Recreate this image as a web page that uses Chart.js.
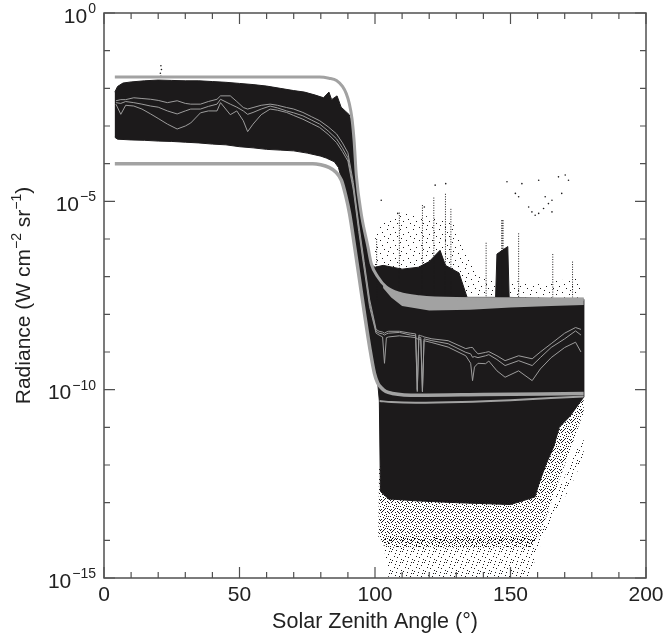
<!DOCTYPE html>
<html>
<head>
<meta charset="utf-8">
<script src="https://cdn.jsdelivr.net/npm/chart.js@4.4.1/dist/chart.umd.min.js"></script>
<style>
  body { margin: 0; background: #fff; }
</style>
</head>
<body>
<canvas id="radChart" width="664" height="639"></canvas>
<script>
// solar zenith angle in degrees, radiance given as log10 exponent (W cm-2 sr-1)

// three median curves (thin gray)
const medSza = [4.4, 6.2, 8, 11, 14, 17.2, 20, 23.4, 27, 30, 32, 35.6, 38.5, 41.7, 43, 46.6, 49, 51.4, 53, 55,
  58, 61.3, 64, 67.4, 70, 73.4, 76.5, 79.6, 82.7, 85.8, 88, 90, 92, 94, 96, 98, 100.4, 101.5, 102.8, 103.5,
  104.2, 105, 109, 113, 115, 115.6, 116.2, 116.9, 117.5, 118.1, 121, 127, 133.5, 135.3, 136, 136.7, 138, 140.8,
  142, 145, 148, 153, 158, 161, 165, 170, 174, 176];
const medA = [-2.33, -2.3, -2.3, -2.25, -2.27, -2.29, -2.32, -2.38, -2.33, -2.4, -2.42, -2.42, -2.35, -2.29, -2.2, -2.2,
  -2.35, -2.51, -2.55, -2.51, -2.45, -2.42, -2.45, -2.51, -2.55, -2.64, -2.75, -2.86, -3.02, -3.21, -3.45, -3.71,
  -4.5, -5.6, -6.6, -7.6, -8.4,
  -8.45, -8.47, -8.5, -8.47, -8.45, -8.45, -8.5, -8.52, -10.0, -8.55, -8.57, -8.58, -8.6, -8.65, -8.7, -8.91,
  -8.88, -8.88, -8.95, -9.05, -9.01, -8.99, -9.1, -9.23, -9.1, -9.18, -9.0, -8.78, -8.5, -8.35, -8.4];
const medB = [-2.38, -2.4, -2.35, -2.38, -2.42, -2.47, -2.5, -2.6, -2.68, -2.6, -2.55, -2.55, -2.48, -2.42, -2.29, -2.42,
  -2.5, -2.6, -2.69, -2.64, -2.55, -2.47, -2.52, -2.6, -2.65, -2.73, -2.84, -2.95, -3.13, -3.34, -3.58, -3.84,
  -4.6, -5.7, -6.7, -7.7, -8.45,
  -8.5, -8.52, -8.55, -8.52, -8.5, -8.48, -8.55, -8.57, -10.05, -8.6, -8.62, -10.05, -8.65, -8.7, -8.78, -9.01,
  -9.05, -9.14, -9.12, -9.15, -9.1, -9.07, -9.2, -9.36, -9.23, -9.36, -9.15, -8.88, -8.65, -8.44, -8.55];
const medC = [-2.42, -2.69, -2.45, -2.47, -2.55, -2.68, -2.8, -2.95, -3.08, -3.0, -2.92, -2.65, -2.6, -2.6, -2.38, -2.7,
  -2.6, -2.86, -3.15, -2.95, -2.7, -2.55, -2.58, -2.64, -2.72, -2.82, -2.93, -3.04, -3.22, -3.44, -3.68, -3.93,
  -4.7, -5.8, -6.8, -7.8, -8.5,
  -8.55, -8.6, -9.3, -8.62, -8.6, -8.57, -8.6, -8.62, -8.65, -8.66, -8.67, -10.05, -8.7, -8.75, -8.87, -9.1,
  -9.3, -9.76, -9.4, -9.3, -9.31, -9.24, -9.5, -9.67, -9.5, -9.76, -9.45, -9.15, -8.88, -8.74, -9.0];

// upper and lower envelopes (thick gray)
const upperSza = [4, 79.6, 83, 85.8, 88, 89.4, 90.5, 91.5, 92.3, 93.1, 94.9, 97.4, 98.6, 101, 104.1, 109, 116.3, 130, 177];
const upperExp = [-1.7, -1.7, -1.73, -1.79, -1.95, -2.14, -2.4, -2.8, -3.4, -4.3, -5.32, -6.21, -6.65, -7.0, -7.27, -7.44, -7.53, -7.58, -7.6];
const lowerSza = [4, 77, 80, 83, 85.5, 87.6, 89.2, 90.6, 92.5, 94.3, 96.1, 98, 99.8, 101, 102.3, 104, 106.4, 116, 140, 177];
const lowerExp = [-4.0, -4.0, -4.03, -4.1, -4.22, -4.44, -4.85, -5.32, -6.21, -7.09, -7.97, -8.86, -9.57, -9.82, -9.95, -10.05, -10.1, -10.15, -10.13, -10.1];
const lower2Sza = [101.7, 106, 115, 132, 150, 165, 177];
const lower2Exp = [-10.3, -10.33, -10.35, -10.33, -10.28, -10.22, -10.18];

// gray band of the upper envelope on the night side
const bandSza = [103, 106, 110, 120, 135, 150, 165, 177];
const bandTop = [-7.22, -7.38, -7.48, -7.55, -7.55, -7.55, -7.55, -7.55];
const bandBot = [-7.3, -7.55, -7.78, -7.9, -7.88, -7.82, -7.78, -7.75];

// outline of the dense black cloud of measurements
const blackSza = [4, 5, 7, 10, 15, 20, 25, 30, 35, 40, 45, 50, 55, 60, 65, 70, 74, 78, 81, 83, 84, 86, 87.5, 89, 90.5,
  91.5, 92.3, 93.1, 94.9, 97.4, 98.6, 100, 103, 110, 116, 120, 124, 126, 131, 134, 144.5, 145, 149, 149.5, 177,
  177, 175, 172, 168, 166, 163, 160.5, 159, 150, 130, 115, 105, 102, 101.6,
  101, 99.8, 98, 96.1, 94.3, 92.5, 90.6, 89.2, 88, 86.5, 85, 82, 80, 75, 70, 65, 60, 55, 50, 45, 40, 35, 30,
  25, 20, 15, 10, 5, 4];
const blackExp = [-2.1, -1.95, -1.86, -1.83, -1.8, -1.78, -1.79, -1.8, -1.8, -1.82, -1.84, -1.87, -1.9, -1.94, -2.0,
  -2.06, -2.1, -2.18, -2.25, -2.1, -2.3, -2.2, -2.5, -2.6, -2.7, -2.95, -3.45, -4.35, -5.35, -6.25, -6.68, -6.75,
  -6.7, -6.8, -6.75, -6.6, -6.3, -6.7, -6.9, -7.55, -7.55, -6.4, -6.2, -7.55, -7.6,
  -10.2, -10.4, -10.7, -11.0, -11.5, -12.0, -12.5, -12.85, -13.05, -13.0, -12.95, -12.9, -12.7, -10.3,
  -9.82, -9.57, -8.86, -7.97, -7.09, -6.21, -5.32, -4.85, -4.5, -4.1, -3.95, -3.85, -3.8, -3.72, -3.66, -3.64,
  -3.62, -3.58, -3.55, -3.5, -3.48, -3.45, -3.43, -3.41, -3.4, -3.38, -3.37, -3.35, -3.3];

// thinner stippled regions round the cloud
const midSza = [101.5, 101.2, 104, 158, 161, 165, 169, 173, 177, 177, 160, 101.5];
const midExp = [-12.0, -13.9, -14.2, -14.2, -13.8, -13.0, -12.2, -11.4, -10.6, -10.0, -10.0, -12.0];
const lowSza = [102.5, 105, 157, 160, 165, 172, 177, 177, 160, 103];
const lowExp = [-13.8, -15, -15, -14.3, -13.5, -12.6, -11.8, -11.2, -13.9, -13.9];
const nightSza = [100, 103, 110, 120, 130, 134, 140, 160, 176, 176, 100];
const nightExp = [-6.0, -5.5, -5.3, -5.4, -5.6, -6.5, -7.0, -7.2, -7.0, -7.6, -7.6];

// vertical streaks above the night band
const spikeSza = [100.6, 109, 117.5, 121.7, 126, 128, 141, 147, 153, 165.6, 172.9];
const spikeTop = [-6.0, -5.3, -5.1, -4.9, -4.8, -5.2, -6.1, -5.5, -5.85, -6.4, -6.6];
const spikeBase = -7.6;

// isolated points
const dotSza = [21, 21.2, 20.8, 21, 148.7, 151.8, 153, 156.7, 157.9, 159.1, 160.4, 162.2, 164, 165.3, 167.7, 170.2,
  171.4, 168.9, 165.3, 162.8, 154.2, 160.4, 122.2, 126.1, 102.3, 108.4, 118.2];
const dotExp = [-1.4, -1.5, -1.6, -1.68, -4.48, -4.79, -4.88, -5.15, -5.28, -5.37, -5.32, -5.19, -5.06, -4.97, -4.35,
  -4.3, -4.44, -4.79, -5.28, -4.88, -4.53, -4.44, -4.57, -4.53, -4.97, -5.32, -5.15];

const xLabels = [0, 50, 100, 150, 200];
const yLabelExps = [0, -5, -10, -15];

const pts = (xs, es) => xs.map((v, i) => ({ x: v, y: Math.pow(10, es[i]) }));

// irregular stipple tiles for the thin parts of the point cloud
function stipple(size, dots) {
  const c = document.createElement('canvas');
  c.width = c.height = size;
  const g = c.getContext('2d');
  g.fillStyle = '#1c1a1b';
  dots.forEach(([px, py]) => g.fillRect(px, py, 1, 1));
  return g.createPattern(c, 'repeat');
}
const midPattern = stipple(10, [[0, 0], [3, 0], [7, 1], [1, 2], [5, 2], [9, 3], [2, 4], [6, 4], [8, 6], [0, 6],
  [4, 5], [3, 7], [7, 8], [1, 9], [5, 8], [9, 9], [6, 6], [2, 1], [8, 2], [4, 9]]);
const lowPattern = stipple(11, [[0, 0], [6, 1], [3, 4], [9, 6], [1, 7], [5, 9], [10, 3], [7, 10], [4, 1]]);
const nightPattern = stipple(13, [[0, 0], [7, 2], [3, 6], [10, 8], [5, 11], [11, 4]]);

const INK = '#1c1a1b';
const GRAY = '#a2a2a2';

const shape = (data, bg, order) => ({
  data, order, fill: 'shape', backgroundColor: bg, borderWidth: 0, pointRadius: 0
});

const datasets = [
  shape(pts(lowSza, lowExp), lowPattern, 12),
  shape(pts(midSza, midExp), midPattern, 11),
  shape(pts(nightSza, nightExp), nightPattern, 11),
  { data: pts(blackSza, blackExp), order: 10, fill: 'shape', backgroundColor: INK,
    borderColor: INK, borderWidth: 1, pointRadius: 0 },
  ...spikeSza.map((s, i) => ({
    data: [{ x: s, y: Math.pow(10, spikeTop[i]) }, { x: s, y: Math.pow(10, spikeBase) }],
    order: 9, borderColor: INK, borderWidth: s === 147 ? 2.5 : 1, borderDash: [1, 1.5],
    pointRadius: 0, fill: false
  })),
  { data: pts(dotSza, dotExp), order: 9, showLine: false, pointRadius: 0.8,
    pointBackgroundColor: INK, pointBorderWidth: 0 },
  shape(pts(bandSza.concat(bandSza.slice().reverse()), bandTop.concat(bandBot.slice().reverse())), GRAY, 8),
  { data: pts(lower2Sza, lower2Exp), order: 6, borderColor: GRAY, borderWidth: 2, pointRadius: 0, fill: false,
    cubicInterpolationMode: 'monotone' },
  { data: pts(lowerSza, lowerExp), order: 6, borderColor: GRAY, borderWidth: 3.5, pointRadius: 0, fill: false,
    cubicInterpolationMode: 'monotone' },
  { data: pts(upperSza, upperExp), order: 6, borderColor: GRAY, borderWidth: 3, pointRadius: 0, fill: false,
    cubicInterpolationMode: 'monotone' },
  ...[medA, medB, medC].map(m => ({
    data: pts(medSza, m), order: 1, borderColor: '#9c9c9c', borderWidth: 1, pointRadius: 0, fill: false
  }))
];

// frame, inward ticks and the labels with superscripts
const frameAndLabels = {
  id: 'frameAndLabels',
  afterDraw(chart) {
    const { ctx, chartArea: a, scales: { x, y } } = chart;
    ctx.save();
    ctx.strokeStyle = '#505050';
    ctx.lineWidth = 1.5;
    ctx.strokeRect(a.left, a.top, a.right - a.left, a.bottom - a.top);

    ctx.lineWidth = 1.2;
    ctx.beginPath();
    for (let v = xLabels[0]; v <= xLabels[xLabels.length - 1]; v += 10) {
      const px = x.getPixelForValue(v);
      const len = xLabels.includes(v) ? 11 : 6;
      ctx.moveTo(px, a.bottom); ctx.lineTo(px, a.bottom - len);
      ctx.moveTo(px, a.top); ctx.lineTo(px, a.top + len);
    }
    for (let e = 0; e >= -15; e--) {
      const py = y.getPixelForValue(Math.pow(10, e));
      const len = yLabelExps.includes(e) ? 11 : 6;
      ctx.moveTo(a.left, py); ctx.lineTo(a.left + len, py);
      ctx.moveTo(a.right, py); ctx.lineTo(a.right - len, py);
    }
    ctx.stroke();

    ctx.fillStyle = '#222';
    const base = '21px "Liberation Sans", Arial, sans-serif';
    const sup = '14px "Liberation Sans", Arial, sans-serif';

    ctx.font = base;
    ctx.textAlign = 'center';
    ctx.textBaseline = 'middle';
    xLabels.forEach(v => ctx.fillText(String(v), x.getPixelForValue(v), a.bottom + 17));
    ctx.font = '21.5px "Liberation Sans", Arial, sans-serif';
    ctx.fillText('Solar Zenith Angle (\u00b0)', (a.left + a.right) / 2, a.bottom + 44);

    ctx.textAlign = 'left';
    yLabelExps.forEach(e => {
      const py = y.getPixelForValue(Math.pow(10, e));
      const s = e === 0 ? '0' : '\u2212' + (-e);
      ctx.font = sup;
      const sw = ctx.measureText(s).width;
      ctx.font = base;
      const bw = ctx.measureText('10').width;
      const right = a.left - 8;
      ctx.fillText('10', right - sw - bw - 1, py + 4);
      ctx.font = sup;
      ctx.fillText(s, right - sw, py - 4);
    });

    // rotated y title
    const parts = [['Radiance (W cm', false], ['\u22122', true], [' sr', false], ['\u22121', true], [')', false]];
    let total = 0;
    parts.forEach(([t, isSup]) => { ctx.font = isSup ? sup : base; total += ctx.measureText(t).width; });
    ctx.translate(24, (a.top + a.bottom) / 2);
    ctx.rotate(-Math.PI / 2);
    let cx = -total / 2;
    parts.forEach(([t, isSup]) => {
      ctx.font = isSup ? sup : base;
      ctx.fillText(t, cx, isSup ? -7 : 0);
      cx += ctx.measureText(t).width;
    });
    ctx.restore();
  }
};

new Chart(document.getElementById('radChart'), {
  type: 'line',
  data: { datasets },
  options: {
    responsive: false,
    animation: false,
    devicePixelRatio: 1,
    layout: { padding: { left: 104, right: 18, top: 13, bottom: 61 } },
    plugins: { legend: { display: false }, tooltip: { enabled: false } },
    elements: { line: { tension: 0 } },
    scales: {
      x: { type: 'linear', min: 0, max: 200, display: false },
      y: { type: 'logarithmic', min: 1e-15, max: 1, display: false }
    }
  },
  plugins: [frameAndLabels]
});
</script>
</body>
</html>
